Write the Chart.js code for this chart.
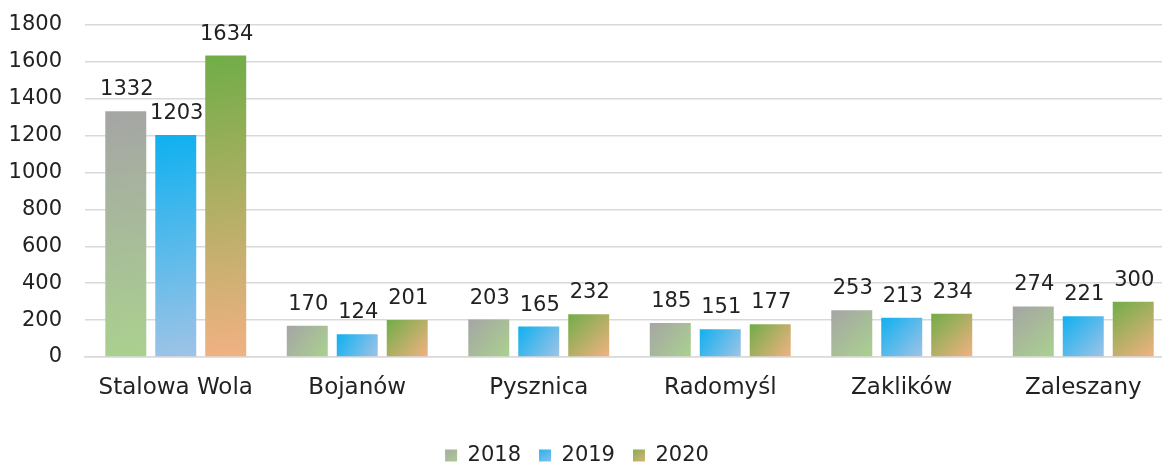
<!DOCTYPE html>
<html lang="pl">
<head>
<meta charset="utf-8">
<title>Wykres</title>
<script src="https://cdn.jsdelivr.net/npm/chart.js@4.4.1/dist/chart.umd.min.js"></script>
<style>
  html, body { margin: 0; padding: 0; background: #fff; overflow: hidden; }
  #wrap { width: 1162px; height: 463px; overflow: hidden; }
  #grafico { display: block; margin-left: -30px; }
</style>
</head>
<body>
<div id="wrap"><canvas id="grafico" width="1204" height="463"></canvas></div>
<script>
// ================================
// Dados
// ================================
const gminy = ["Stalowa Wola", "Bojanów", "Pysznica", "Radomyśl", "Zaklików", "Zaleszany"]
const lata = ["2018", "2019", "2020"]
const wartosci2018 = [1332, 170, 203, 185, 253, 274]
const wartosci2019 = [1203, 124, 165, 151, 213, 221]
const wartosci2020 = [1634, 201, 232, 177, 234, 300]
const ticksY = [0, 200, 400, 600, 800, 1000, 1200, 1400, 1600, 1800]

// ================================
// Cores (topo -> base do gradiente)
// ================================
const coresTopo = ["#a5a5a5", "#0fb0f0", "#70ad47"]
const coresBase = ["#aad18e", "#9fc3e6", "#f2b183"]
const corTexto = "#222222"
const corGrade = "#d9d9d9"
const fonte = "'DejaVu Sans', sans-serif"

// ================================
// Plugin: gradiente em cada barra
// ================================
const pluginGradiente = {
  id: "gradienteBarras",
  beforeDraw(chart) {
    const ctx = chart.ctx
    // legenda
    const legenda = chart.legend
    if (legenda && legenda.legendItems && legenda.legendHitBoxes) {
      legenda.legendItems.forEach((item, i) => {
        const hb = legenda.legendHitBoxes[i]
        if (!hb) return
        const g = ctx.createLinearGradient(hb.left, hb.top, hb.left + 12, hb.top + hb.height)
        g.addColorStop(0, coresTopo[item.datasetIndex])
        g.addColorStop(1, coresBase[item.datasetIndex])
        item.fillStyle = g
        item.lineWidth = 0
      })
    }
  },
  beforeDatasetsDraw(chart) {
    const ctx = chart.ctx
    chart.data.datasets.forEach((ds, di) => {
      const meta = chart.getDatasetMeta(di)
      meta.data.forEach((el) => {
        const { x, y, base, width } = el
        const g = ctx.createLinearGradient(x - width / 2, y, x + width / 2, base)
        g.addColorStop(0, coresTopo[di])
        g.addColorStop(1, coresBase[di])
        el.options.backgroundColor = g
      })
    })
  },
}

// ================================
// Plugin: rótulos de valores
// ================================
const pluginRotulos = {
  id: "rotulosValores",
  afterDatasetsDraw(chart) {
    const ctx = chart.ctx
    ctx.save()
    ctx.font = "21px " + fonte
    ctx.fillStyle = corTexto
    ctx.textAlign = "center"
    ctx.textBaseline = "alphabetic"
    chart.data.datasets.forEach((ds, di) => {
      const meta = chart.getDatasetMeta(di)
      meta.data.forEach((el, i) => {
        ctx.fillText(String(ds.data[i]), el.x + 1, el.y - 16)
      })
    })
    ctx.restore()
  },
}

// ================================
// Gráfico
// ================================
const series = [wartosci2018, wartosci2019, wartosci2020]

new Chart(document.getElementById("grafico").getContext("2d"), {
  type: "bar",
  data: {
    labels: gminy,
    datasets: series.map((dados, i) => ({
      label: lata[i],
      data: dados,
      backgroundColor: () => coresTopo[i],
      borderWidth: 0,
      categoryPercentage: 0.826,
      barPercentage: 0.82,
    })),
  },
  options: {
    responsive: false,
    animation: false,
    layout: { padding: { left: 10, right: 0, top: 25, bottom: -13 } },
    plugins: {
      tooltip: { enabled: false },
      legend: {
        position: "bottom",
        labels: {
          boxWidth: 12,
          boxHeight: 12,
          padding: 18,
          color: corTexto,
          font: { family: fonte, size: 21 },
        },
      },
    },
    scales: {
      x: {
        grid: { display: false, drawTicks: false },
        border: { color: corGrade, width: 1.5 },
        afterFit: (s) => {
          s.height += 8.4
        },
        ticks: {
          color: corTexto,
          padding: 17,
          font: { family: fonte, size: 23 },
          maxRotation: 0,
        },
      },
      y: {
        min: 0,
        max: 1800,
        afterBuildTicks: (s) => {
          s.ticks = ticksY.map((v) => ({ value: v }))
        },
        afterFit: (s) => {
          s.width = 105
        },
        grid: {
          color: corGrade,
          lineWidth: 1.5,
          drawTicks: true,
          tickLength: 13,
          tickColor: "rgba(0,0,0,0)",
        },
        border: { display: false },
        ticks: {
          color: corTexto,
          padding: 10,
          font: { family: fonte, size: 21 },
          callback: (v) => String(v),
        },
      },
    },
  },
  plugins: [pluginGradiente, pluginRotulos],
})
</script>
</body>
</html>
